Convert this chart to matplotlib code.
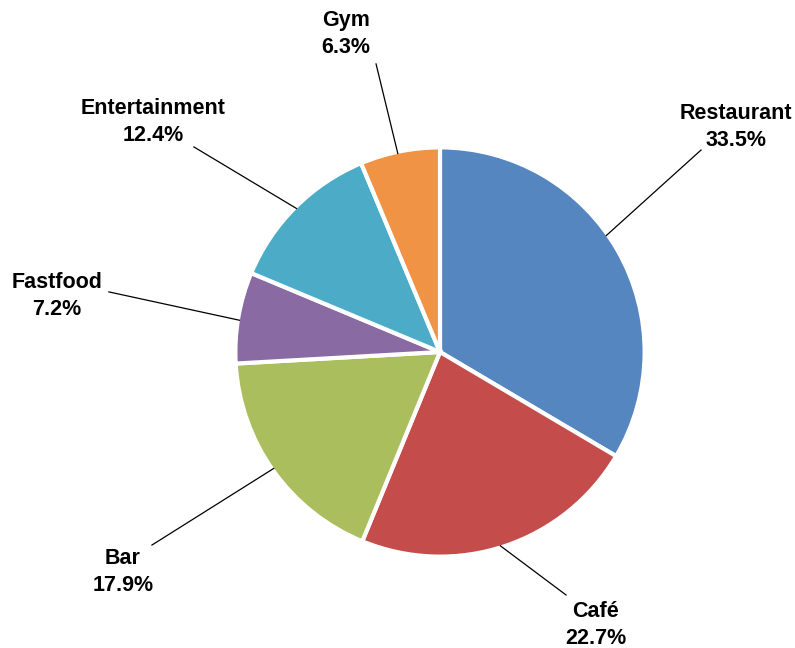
import numpy as np
import matplotlib.pyplot as plt

categories = ["Restaurant", "Café", "Bar", "Fastfood", "Entertainment", "Gym"]
shares = [33.5, 22.7, 17.9, 7.2, 12.4, 6.3]
colors = ["#5586c0", "#c44d4b", "#abbe5d", "#8a6aa3", "#4cacc8", "#f19345"]

# label layout (data units, pie radius = 1)
label_xy = [(1.458, 1.108), (0.768, -1.345), (-1.562, -1.084),
            (-1.887, 0.276), (-1.414, 1.133), (-0.463, 1.567)]
leader_end = [(1.286, 0.995), (0.621, -1.197), (-1.419, -0.951),
              (-1.631, 0.296), (-1.212, 1.010), (-0.315, 1.419)]
anchor_deg = [35, -72.7, -145, 171, 135, 102]

plt.rcParams["font.family"] = ["Liberation Sans", "DejaVu Sans"]

fig = plt.figure(figsize=(7.95, 6.48), dpi=100)
ax = fig.add_axes([0, 0, 1, 1])
ax.pie(shares, colors=colors, startangle=90, counterclock=False, radius=1.008,
       wedgeprops=dict(edgecolor="white", linewidth=3))

for name, v, (tx, ty), (ex, ey), a in zip(categories, shares, label_xy, leader_end, anchor_deg):
    ang = np.deg2rad(a)
    ax.plot([np.cos(ang), ex], [np.sin(ang), ey], color="black", lw=0.9)
    ax.text(tx, ty, f"{name}\n{v:.1f}%", ha="center", va="center",
            fontsize=15.5, fontweight="bold", linespacing=1.36)

ax.set_xlim(-440 / 203, 355 / 203)
ax.set_ylim(-296 / 203, 352 / 203)
ax.set_aspect("equal")
ax.axis("off")

fig.savefig("out.png", dpi=100)
